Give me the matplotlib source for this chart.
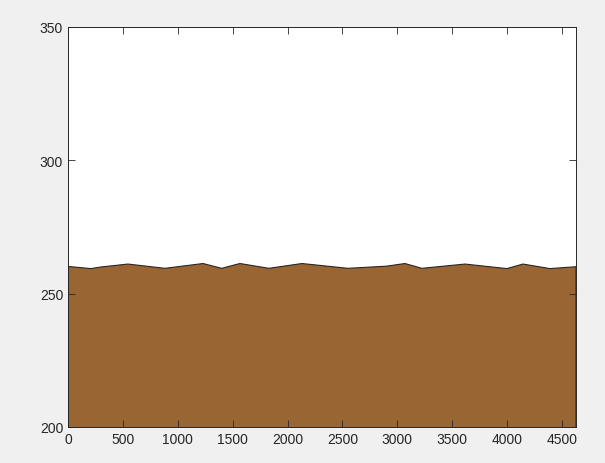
import matplotlib
matplotlib.use('Agg')
import matplotlib.pyplot as plt

# profile
dist = [0, 210, 300, 546, 883, 1230, 1400, 1566, 1830, 2131, 2550, 2900, 3069,
        3224, 3616, 3998, 4144, 4390, 4627]
height = [260.2, 259.4, 260.0, 261.1, 259.5, 261.3, 259.5, 261.3, 259.5, 261.3, 259.5,
          260.3, 261.3, 259.5, 261.1, 259.4, 261.1, 259.4, 260.1]

xticks = list(range(0, 5000, 500))
yticks = [200, 250, 300, 350]

plt.rcParams['font.family'] = ['Liberation Sans', 'DejaVu Sans']
fig = plt.figure(figsize=(6.05, 4.64), dpi=100, facecolor='#f0f0f0')
ax = fig.add_axes([0.1124, 0.0776, 0.8396, 0.8621])

ax.fill_between(dist, 0, height, facecolor='#996633', edgecolor='#262626', linewidth=0.8)
ax.set_xlim(0, 4627)
ax.set_ylim(200, 350)
ax.set_xticks(xticks)
ax.set_yticks(yticks)
ax.tick_params(direction='in', top=True, right=True, labelsize=10, colors='#262626',
               length=5, width=0.6)
for s in ax.spines.values():
    s.set_color('#262626')
    s.set_linewidth(0.7)

fig.savefig('out.png', dpi=100, facecolor=fig.get_facecolor())
